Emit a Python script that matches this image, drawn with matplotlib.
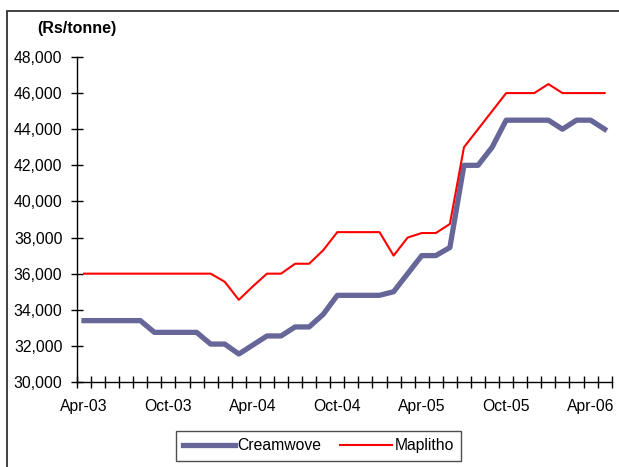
import numpy as np
import pandas as pd
import matplotlib
matplotlib.use("Agg")
import matplotlib.pyplot as plt
from matplotlib.patches import Rectangle
from matplotlib.ticker import FuncFormatter

plt.rcParams['font.family'] = ['Liberation Sans', 'DejaVu Sans']

# monthly paper prices, Apr-03 to May-06 (Rs/tonne)
bulan = pd.date_range('2003-04-01', periods=38, freq='MS').strftime('%b-%y').tolist()

creamwove = [33400, 33400, 33400, 33400, 33400,
             32750, 32750, 32750, 32750,
             32100, 32100, 31550, 32050, 32550, 32550, 33050, 33050, 33750,
             34800, 34800, 34800, 34800, 35000, 36000, 37000, 37000, 37450,
             42000, 42000, 43000, 44500, 44500, 44500, 44500, 44000, 44500,
             44500, 44000]

maplitho = [36000] * 10 + [35550, 34550, 35300, 36000, 36000, 36550, 36550,
                           37300, 38300, 38300, 38300, 38300, 37000, 38000,
                           38250, 38250, 38750, 43000, 44000, 45000, 46000,
                           46000, 46000, 46500, 46000, 46000, 46000, 46000]

x = np.arange(len(bulan))

fig = plt.figure(figsize=(6.19, 4.67), dpi=100)
ax = fig.add_axes([0.1244, 0.182, 0.8638, 0.696])

ax.plot(x, creamwove, color='#666699', linewidth=3.8, label='Creamwove',
        solid_joinstyle='round')
ax.plot(x, maplitho, color='#ff0000', linewidth=1.5, label='Maplitho')

ax.set_xlim(-0.5, len(bulan) - 0.5)
ax.set_ylim(30000, 48000)

# sumbu x: tanda di batas kategori, label tiap 6 bulan
ax.set_xticks(x[::6])
ax.set_xticklabels([bulan[i] for i in x[::6]])
ax.set_xticks(np.arange(-0.5, len(bulan)), minor=True)
ax.tick_params(axis='x', which='major', length=0, pad=12, labelsize=11.3)
ax.tick_params(axis='x', which='minor', direction='inout', length=8, width=1)

ax.set_yticks(np.arange(30000, 48001, 2000))
ax.yaxis.set_major_formatter(FuncFormatter(lambda v, p: f'{v:,.0f}'))
ax.tick_params(axis='y', direction='inout', length=9, width=1, pad=6,
               labelsize=11.3)

for s in ['top', 'right']:
    ax.spines[s].set_visible(False)
ax.spines['left'].set_linewidth(1)
ax.spines['bottom'].set_linewidth(1)

fig.text(37 / 619, 1 - 29 / 467, '(Rs/tonne)', fontsize=11.5,
         fontweight='bold', va='center', ha='left')

leg = fig.legend(loc='center', bbox_to_anchor=(0.5146, 0.045), ncol=2,
                 fontsize=11.3, frameon=True, fancybox=False,
                 handlelength=3.3, handletextpad=0.15, columnspacing=1.2,
                 borderpad=0.45)
leg.get_frame().set_edgecolor('#222222')
leg.get_frame().set_linewidth(1)

# bingkai luar grafik
fig.patches.append(Rectangle((7 / 619, -0.1), 1.2, 1.1 - 11 / 467,
                             transform=fig.transFigure, fill=False,
                             edgecolor='#333333', linewidth=1.3))

fig.savefig('out.png', dpi=100)
